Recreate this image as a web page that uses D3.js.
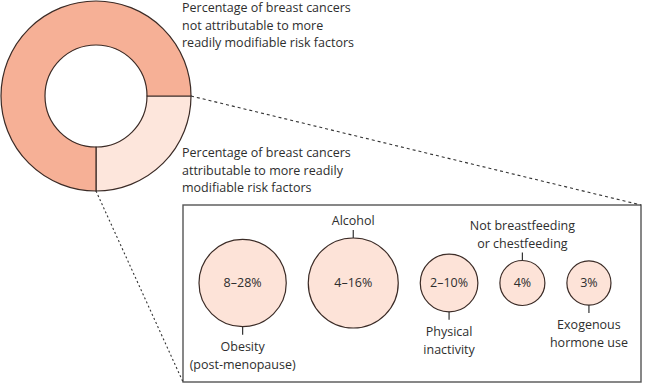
<!DOCTYPE html>
<html>
<head>
<meta charset="utf-8">
<script src="https://cdn.jsdelivr.net/npm/d3@7"></script>
<style>
  body { margin: 0; background: #fff; }
  svg text { font-family: "Open Sans", "Noto Sans", sans-serif; fill: #2e2e2e; }
</style>
</head>
<body>
<svg id="chart" width="645" height="384"></svg>
<script>
// donut: share of breast cancers (approx.)
const donutLabels = [
    ["Percentage of breast cancers", "attributable to more readily", "modifiable risk factors"],
    ["Percentage of breast cancers", "not attributable to more", "readily modifiable risk factors"]
];
const donutValues = [25, 75];

// risk factors
const factorNames = [
    ["Obesity", "(post-menopause)"],
    ["Alcohol"],
    ["Physical", "inactivity"],
    ["Not breastfeeding", "or chestfeeding"],
    ["Exogenous", "hormone use"]
];
const factorRanges = ["8–28%", "4–16%", "2–10%", "4%", "3%"];
const factorSize = [94, 100, 41, 25, 24]; // relative bubble area
const labelSide = ["below", "above", "below", "above", "below"];

const svg = d3.select("#chart");
const stroke = "#3b2b26";

// ---- donut
const cx = 96, cy = 96, rOuter = 95, rInner = 51;
const pie = d3.pie().sort(null).startAngle(Math.PI / 2).endAngle(Math.PI / 2 + 2 * Math.PI);
const arc = d3.arc().innerRadius(rInner).outerRadius(rOuter);
const colors = ["#fde6dc", "#f6b096"];

const donut = svg.append("g").attr("transform", `translate(${cx},${cy})`);
donut.selectAll("path")
    .data(pie(donutValues))
    .join("path")
    .attr("d", arc)
    .attr("fill", (d, i) => colors[i])
    .attr("stroke", stroke)
    .attr("stroke-width", 1.2);

// donut labels
const labelPos = [[182, 153], [182, 8]];
donutLabels.forEach((lines, i) => {
    const t = svg.append("text")
        .attr("x", labelPos[i][0])
        .attr("y", labelPos[i][1])
        .attr("font-size", 12.5);
    lines.forEach((l, j) => {
        t.append("tspan").attr("x", labelPos[i][0]).attr("dy", j == 0 ? "0.35em" : 17.5).text(l);
    });
});

// ---- box
const box = { x: 183, y: 205, w: 458, h: 177 };
svg.append("rect")
    .attr("x", box.x).attr("y", box.y)
    .attr("width", box.w).attr("height", box.h)
    .attr("fill", "none")
    .attr("stroke", "#555")
    .attr("stroke-width", 1.4);

// dashed connectors from the light slice to the box
const slice = pie(donutValues)[0];
const p0 = [cx + rOuter * Math.sin(slice.startAngle), cy - rOuter * Math.cos(slice.startAngle)];
const p1 = [cx + rOuter * Math.sin(slice.endAngle), cy - rOuter * Math.cos(slice.endAngle)];
svg.append("line")
    .attr("x1", p0[0]).attr("y1", p0[1])
    .attr("x2", box.x + box.w).attr("y2", box.y)
    .attr("stroke", "#333").attr("stroke-width", 1.1).attr("stroke-dasharray", "3,3");
svg.append("line")
    .attr("x1", p1[0]).attr("y1", p1[1])
    .attr("x2", box.x).attr("y2", box.y + box.h)
    .attr("stroke", "#333").attr("stroke-width", 1.1).attr("stroke-dasharray", "2,2.5");

// ---- bubbles, laid out left to right with an even gap between edges
const r = d3.scaleSqrt().domain([0, d3.max(factorSize)]).range([0, 45]);
const gap = 22;
let edge = 199;
const centreX = factorSize.map(v => {
    const c = edge + r(v);
    edge = c + r(v) + gap;
    return c;
});
const by = 283;

const bubbles = svg.selectAll("g.bubble")
    .data(factorRanges)
    .join("g")
    .attr("class", "bubble")
    .attr("transform", (d, i) => `translate(${centreX[i]},${by})`);

bubbles.append("circle")
    .attr("r", (d, i) => r(factorSize[i]))
    .attr("fill", "#fde3d8")
    .attr("stroke", stroke)
    .attr("stroke-width", 1.2);

bubbles.append("text")
    .attr("text-anchor", "middle")
    .attr("dy", "0.35em")
    .attr("font-size", 12.5)
    .attr("fill", "#444")
    .text(d => d);

// tick + labels
bubbles.each(function(d, i) {
    const g = d3.select(this);
    const rad = r(factorSize[i]);
    const lines = factorNames[i];
    const up = labelSide[i] == "above";
    const s = up ? -1 : 1;
    g.append("line")
        .attr("x1", 0).attr("x2", 0)
        .attr("y1", s * rad).attr("y2", s * (rad + 8))
        .attr("stroke", "#333").attr("stroke-width", 1.2);
    const lh = 17.5;
    lines.forEach((l, j) => {
        let y;
        if (up) y = -(rad + 17) - (lines.length - 1 - j) * lh;
        else y = rad + 20 + j * lh;
        g.append("text")
            .attr("text-anchor", "middle")
            .attr("y", y)
            .attr("dy", "0.35em")
            .attr("font-size", 12.5)
            .text(l);
    });
});
</script>
</body>
</html>
